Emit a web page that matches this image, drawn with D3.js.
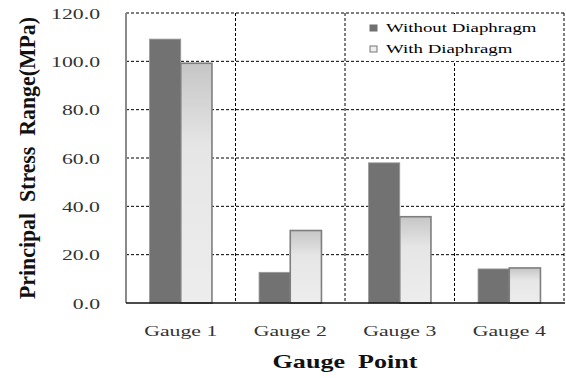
<!DOCTYPE html>
<html>
<head>
<meta charset="utf-8">
<script src="https://cdn.jsdelivr.net/npm/d3@7"></script>
<style>
  body { margin: 0; background: #fff; }
  svg { display: block; }
  text { font-family: "Liberation Serif", "DejaVu Serif", serif; }
</style>
</head>
<body>
<script>
const categories = ["Gauge 1", "Gauge 2", "Gauge 3", "Gauge 4"];
const seriesNames = ["Without Diaphragm", "With Diaphragm"];
const withoutDiaphragm = [109.2, 12.7, 58, 14.1];
const withDiaphragm = [99.2, 30, 35.7, 14.5];
const yTicks = [0, 20, 40, 60, 80, 100, 120];

const width = 566, height = 378;
const plotLeft = 126, plotRight = 564, plotTop = 13, plotBottom = 303;
const sx = 1.45; // the picture is stretched sideways

const svg = d3.select("body").append("svg")
  .attr("width", width)
  .attr("height", height);

const x = d3.scaleBand().domain(categories)
  .range([plotLeft, plotRight]).paddingInner(0.43).paddingOuter(0.215);
const xs = d3.scaleBand().domain(seriesNames).range([0, x.bandwidth()]);
const y = d3.scaleLinear().domain([0, 120]).range([plotBottom, plotTop]);

const defs = svg.append("defs");
const grad = defs.append("linearGradient").attr("id", "lightFill")
  .attr("x1", 0).attr("y1", 0).attr("x2", 0).attr("y2", 1);
grad.append("stop").attr("offset", "0%").attr("stop-color", "#c6c6c6");
grad.append("stop").attr("offset", "35%").attr("stop-color", "#e6e6e6");
grad.append("stop").attr("offset", "100%").attr("stop-color", "#ededed");

// horizontal grid
svg.append("g").selectAll("line").data(yTicks.filter(d => d > 0))
  .join("line")
  .attr("x1", plotLeft).attr("x2", plotRight)
  .attr("y1", d => y(d)).attr("y2", d => y(d))
  .attr("stroke", "#000").attr("stroke-width", 1)
  .attr("stroke-dasharray", "3,2");

// vertical dividers
const step = x.step();
const dividers = categories.map((c, i) => plotLeft + (i + 1) * step);
svg.append("g").selectAll("line").data(dividers)
  .join("line")
  .attr("x1", d => d).attr("x2", d => d)
  .attr("y1", plotTop).attr("y2", plotBottom)
  .attr("stroke", "#000").attr("stroke-width", 1)
  .attr("stroke-dasharray", "3,2");

// legend box (covers the grid)
const legend = svg.append("g");
legend.append("rect")
  .attr("x", 366).attr("y", plotTop + 1)
  .attr("width", plotRight - 367).attr("height", y(100) - plotTop - 1.5)
  .attr("fill", "#fff");

// bars
const rows = categories.map((c, i) => ({cat: c, vals: [withoutDiaphragm[i], withDiaphragm[i]]}));
const groups = svg.append("g").selectAll("g").data(rows)
  .join("g")
  .attr("transform", d => `translate(${x(d.cat)},0)`);
groups.selectAll("rect")
  .data(d => d.vals.map((v, j) => ({name: seriesNames[j], v: v, j: j})))
  .join("rect")
  .attr("x", d => xs(d.name))
  .attr("y", d => y(d.v))
  .attr("width", xs.bandwidth())
  .attr("height", d => plotBottom - y(d.v))
  .attr("fill", d => d.j === 0 ? "#727272" : "url(#lightFill)")
  .attr("stroke", d => d.j === 0 ? "#9a9a9a" : "#7e7e7e")
  .attr("stroke-width", d => d.j === 0 ? 0.8 : 1.6);

// axes lines
svg.append("line")
  .attr("x1", plotLeft).attr("x2", plotLeft).attr("y1", plotTop).attr("y2", plotBottom)
  .attr("stroke", "#8a8a8a").attr("stroke-width", 2);
svg.append("line")
  .attr("x1", plotLeft).attr("x2", plotRight + 1).attr("y1", plotBottom).attr("y2", plotBottom)
  .attr("stroke", "#111").attr("stroke-width", 1.5);

// y tick labels
svg.append("g").selectAll("text").data(yTicks)
  .join("text")
  .attr("transform", d => `translate(100,${y(d) + 5.5}) scale(${sx},1)`)
  .attr("text-anchor", "end")
  .attr("font-size", 15)
  .attr("fill", "#333")
  .text(d => d.toFixed(1));

// x tick labels
svg.append("g").selectAll("text").data(categories)
  .join("text")
  .attr("transform", d => `translate(${x(d) + x.bandwidth() / 2},336) scale(${sx},1)`)
  .attr("text-anchor", "middle")
  .attr("font-size", 15)
  .attr("fill", "#333")
  .text(d => d);

// axis titles
svg.append("text")
  .attr("transform", `translate(${(plotLeft + plotRight) / 2},368) scale(${sx},1)`)
  .attr("text-anchor", "middle")
  .attr("font-size", 18).attr("font-weight", "bold")
  .attr("fill", "#111")
  .attr("xml:space", "preserve")
  .text("Gauge  Point");

svg.append("text")
  .attr("transform", `translate(35,${(plotTop + plotBottom) / 2}) scale(1.25,1) rotate(-90)`)
  .attr("text-anchor", "middle")
  .attr("font-size", 19).attr("font-weight", "bold")
  .attr("fill", "#111")
  .attr("xml:space", "preserve")
  .attr("textLength", 282).attr("lengthAdjust", "spacingAndGlyphs")
  .text("Principal  Stress  Range(MPa)");

// legend entries
const items = legend.selectAll("g.item").data(seriesNames)
  .join("g").attr("class", "item")
  .attr("transform", (d, i) => `translate(370,${32 + i * 21})`);
items.append("rect")
  .attr("x", 0).attr("y", -7).attr("width", 7).attr("height", 6)
  .attr("fill", (d, i) => i === 0 ? "#707070" : "#eeeeee")
  .attr("stroke", (d, i) => i === 0 ? "#707070" : "#777")
  .attr("stroke-width", 1);
items.append("text")
  .attr("transform", `translate(16,0) scale(${sx},1)`)
  .attr("font-size", 13)
  .attr("fill", "#000")
  .text(d => d);
</script>
</body>
</html>
